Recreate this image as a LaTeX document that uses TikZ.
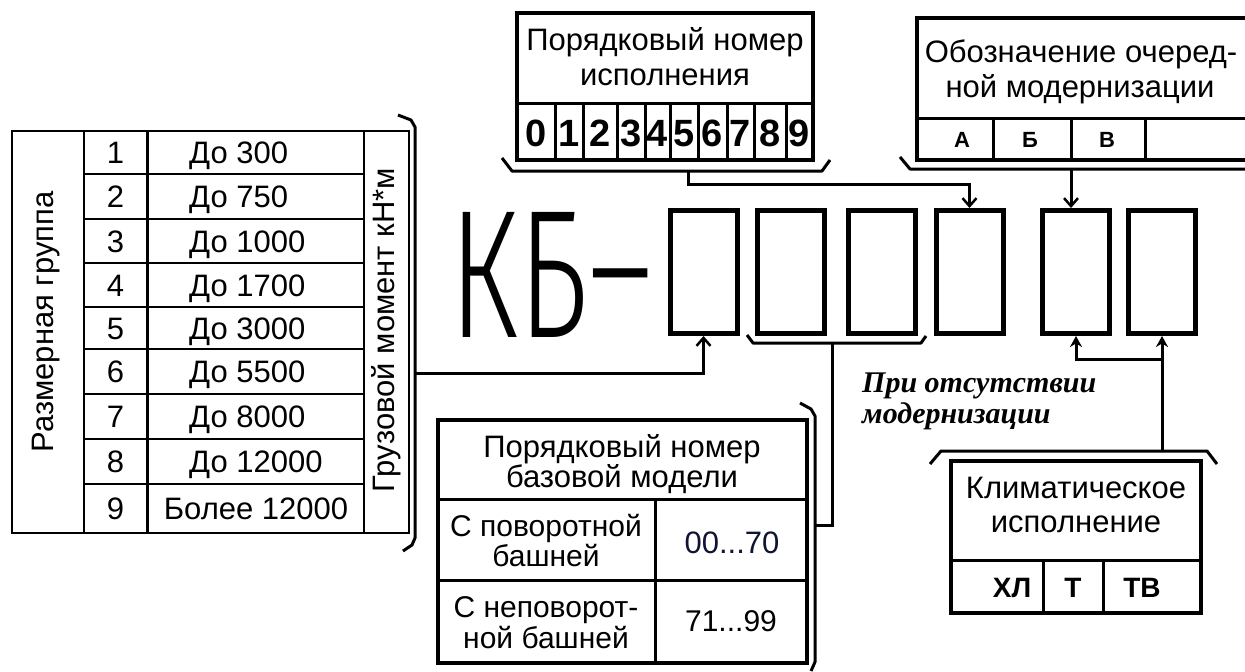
\documentclass[tikz,border=0pt]{standalone}
\usepackage{graphicx}
\usepackage{fontspec}
\setmainfont{Liberation Sans}
\newfontfamily\notefont{Liberation Serif}
\IfFontExistsTF{Fira Sans Light}{\newfontfamily\kbfont{Fira Sans Light}}{\newfontfamily\kbfont{DejaVu Sans}}
\usetikzlibrary{arrows.meta}
\newcommand\setfs[2]{\fontsize{#1}{#2}\selectfont}
\definecolor{navytext}{RGB}{15,20,50}

\tikzset{
  txt/.style={inner sep=0pt, font=\setfs{31}{35}},
  celltxt/.style={inner sep=0pt, font=\setfs{30}{32}},
  digit/.style={inner sep=0pt, font=\bfseries\setfs{38}{38}},
  letter/.style={inner sep=0pt, font=\bfseries\setfs{22}{24}},
  climtxt/.style={inner sep=0pt, font=\bfseries\setfs{28}{30}},
  note/.style={inner sep=0pt, font=\notefont\bfseries\itshape\setfs{30}{32}},
  codebox/.style={draw, line width=5pt, minimum width=67pt, minimum height=123pt, inner sep=0pt},
  thinline/.style={line width=2pt},
  midline/.style={line width=3pt},
  frame/.style={line width=4pt},
  brk/.style={line width=3pt, line join=round},
  conn/.style={line width=3pt},
  arrowV/.style={-{Straight Barb[length=8pt,width=14pt,line width=2.5pt]}},
  arrowF/.style={-{Stealth[length=11pt,width=12pt]}}
}

\begin{document}
\begin{tikzpicture}[x=1pt,y=-1pt]
\useasboundingbox (0,0) rectangle (1245,672);
\fill[white] (0,0) rectangle (1245,672);
\clip (0,0) rectangle (1245,672);

% ---- designation KB-
\node[inner sep=0pt, anchor=south west] (kb) at (449,338)
  {\resizebox{204pt}{125pt}{\kbfont КБ\raisebox{0.4pt}{–}}};

% ---- code positions
\foreach \nm/\cx in {b1/703.5,b2/791,b3/881.5,b4/969.5,b5/1076,b6/1162}
  \node[codebox] (\nm) at (\cx,272) {};

% ---- size group table
\draw[thinline] (12,131) rectangle (409,533);
\draw[thinline] (84,131) -- (84,533);
\draw[midline] (147,131) -- (147,533);
\draw[thinline] (364,131) -- (364,533);
\foreach \y in {174,219,263,307,349,394,439,484}
  \draw[thinline] (84,\y) -- (364,\y);
\node[txt, rotate=90, anchor=base] (sizegrp) at (53,322) {Размерная группа};
\node[txt, rotate=90, anchor=base] (moment) at (394,330) {Грузовой момент кН*м};
\foreach \k/\yb/\v in {1/163.5/До 300, 2/207.5/До 750, 3/252/До 1000, 4/296/До 1700,
                       5/339/До 3000, 6/382.5/До 5500, 7/427.5/До 8000, 8/472.5/До 12000}{
  \node[txt, anchor=base] (grp\k) at (115.5,\yb) {\k};
  \node[txt, anchor=base west] (lim\k) at (189,\yb) {\v};
}
\node[txt, anchor=base] (grp9) at (115.5,519.5) {9};
\node[txt, anchor=base] (lim9) at (256,519.5) {Более 12000};

% bracket of the size group table and its lead to the first position
\draw[brk] (398,115) -- (411,120) -- (415,127) -- (415,538) -- (412,545) -- (403,551);
\coordinate (lbm) at (415,373);
\draw[conn, arrowV] (lbm) -| (b1.south);

% ---- version number box
\draw[frame] (517,13) rectangle (813,160);
\draw[midline] (517,103) -- (813,103);
\foreach \x in {555,583,617,645,670,698,727,754,786}
  \draw[midline] (\x,103) -- (\x,160);
\node[txt, anchor=base] (verA) at (665,50) {Порядковый номер};
\node[txt, anchor=base] (verB) at (665,85) {исполнения};
\foreach \d/\x in {0/536,1/569,2/600,3/631,4/657.5,5/684,6/712.5,7/740.5,8/770,9/799.5}
  \node[digit, anchor=base] (d\d) at (\x,146) {\d};
\draw[brk] (502,158) -- (512,171) -- (822,171) -- (830,160);
\coordinate (tmb) at (688,171);
\draw[conn, arrowV] (tmb) -- ++(0,13) -| (b4.north);

% ---- modernisation box
\draw[frame] (917,18) rectangle (1270,160);
\draw[midline] (917,118) -- (1270,118);
\foreach \x in {993,1071,1145}
  \draw[midline] (\x,118) -- (\x,160);
\node[txt, anchor=base] (modA) at (1081,62) {Обозначение очеред-};
\node[txt, anchor=base] (modB) at (1080,97) {ной модернизации};
\node[letter, anchor=base] (la) at (962,147) {А};
\node[letter, anchor=base] (lb) at (1030,147) {Б};
\node[letter, anchor=base] (lv) at (1107,147) {В};
\draw[brk] (900,157) -- (910,169) -- (1260,169);
\coordinate (trb) at (1071,169);
\draw[conn, arrowV] (trb) -- (trb |- b5.north);

% ---- base model table
\draw[line width=3.5pt] (438,420) rectangle (807,663);
\draw[midline] (438,499) -- (807,499);
\draw[midline] (438,580) -- (807,580);
\draw[midline] (655,499) -- (655,663);
\node[txt, anchor=base] (baseA) at (622,457) {Порядковый номер};
\node[txt, anchor=base] (baseB) at (622,487) {базовой модели};
\node[celltxt, anchor=base] (rotA) at (546,536) {С поворотной};
\node[celltxt, anchor=base] (rotB) at (546,566) {башней};
\node[celltxt, anchor=base] (fixA) at (546,617) {С неповорот-};
\node[celltxt, anchor=base] (fixB) at (546,648) {ной башней};
\node[txt, anchor=base, text=navytext] (rngA) at (732,553) {00...70};
\node[celltxt, anchor=base] (rngB) at (731,631) {71...99};
\draw[brk] (800,403) -- (811,409) -- (815,416) -- (815,662) -- (811,671);
\coordinate (bbm) at (815,525);
\draw[brk] (747,335) -- (753,343) -- (921,343) -- (926,336);
\coordinate (ubm) at (832,343);
\draw[conn] (bbm) -| (ubm);

% ---- note
\node[note, anchor=base west] (note1) at (862,392) {При отсутствии};
\node[note, anchor=base west] (note2) at (862,423) {модернизации};

% ---- climate version box
\draw[frame] (951,461) rectangle (1201,613);
\draw[midline] (951,560) -- (1201,560);
\draw[midline] (1043,560) -- (1043,613);
\draw[midline] (1103,560) -- (1103,613);
\node[txt, anchor=base] (climA) at (1076,498) {Климатическое};
\node[txt, anchor=base] (climB) at (1076,532) {исполнение};
\node[climtxt, anchor=base] (cxl) at (1012,597) {ХЛ};
\node[climtxt, anchor=base] (ct) at (1073,597) {Т};
\node[climtxt, anchor=base] (ctv) at (1142,597) {ТВ};
\draw[brk] (930,464) -- (941,451) -- (1207,451) -- (1217,464);
\coordinate (clb) at (1162,451);
\coordinate (fork) at (1162,359);
\draw[conn, arrowF] (clb) -- (b6.south);
\draw[conn, arrowF] (fork) -| (b5.south);
\end{tikzpicture}
\end{document}
